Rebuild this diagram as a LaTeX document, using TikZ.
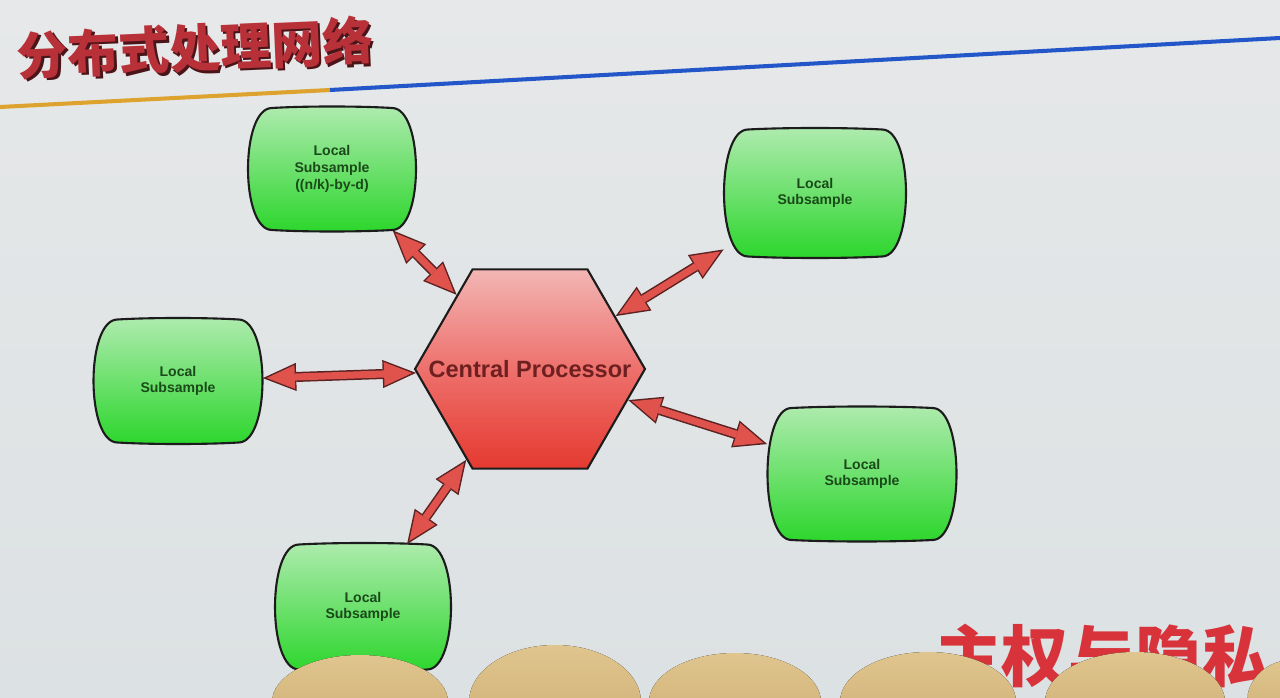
\documentclass[tikz,border=0pt]{standalone}
\usepackage{fontspec}
\usetikzlibrary{shapes.geometric,arrows.meta,calc}
\newfontfamily\lsans{Liberation Sans}
\newfontfamily\cjk{Noto Sans CJK SC}
\definecolor{bgtop}{HTML}{E6E8E9}
\definecolor{bgbot}{HTML}{DCE1E3}
\definecolor{titlered}{HTML}{B83038}
\definecolor{titleshadow}{HTML}{4A1418}
\definecolor{goldline}{HTML}{DDA32E}
\definecolor{blueline}{HTML}{2356C8}
\definecolor{greentop}{HTML}{AEEBAE}
\definecolor{greenbot}{HTML}{2CD62C}
\definecolor{greentext}{HTML}{1A4A1A}
\definecolor{hextop}{HTML}{F2B6B4}
\definecolor{hexmid}{HTML}{EE706C}
\definecolor{hexbot}{HTML}{E43A30}
\definecolor{hextext}{HTML}{6E2020}
\definecolor{arrowred}{HTML}{E0524C}
\definecolor{arrowline}{HTML}{5A2222}
\definecolor{outline}{HTML}{1C1C1C}
\definecolor{tantop}{HTML}{DFC58E}
\definecolor{tanbot}{HTML}{CBAA6E}
\definecolor{bigred}{HTML}{D8323A}
\tikzset{
  barrelfill/.style={draw=outline, line width=1.2pt, top color=greentop, bottom color=greenbot},
  barreltext/.style={inner sep=0pt, align=center, text=greentext, font=\lsans\bfseries\fontsize{8}{9.5}\selectfont},
  hexstyle/.style={regular polygon, regular polygon sides=6, minimum size=4.6cm, inner sep=0pt,
    draw=outline, line width=1.2pt, top color=hextop, bottom color=hexbot, middle color=hexmid},
  biarrow/.style={draw=arrowline, line width=5.7pt,
    {Triangle[length=19pt,width=16pt,line width=0pt]}-{Triangle[length=19pt,width=16pt,line width=0pt]},
    postaction={draw=arrowred, line width=4pt, shorten <=2.2pt, shorten >=2.2pt,
    {Triangle[length=16pt,width=13.6pt,line width=0pt]}-{Triangle[length=16pt,width=13.6pt,line width=0pt]}}},
  tan/.style={top color=tantop, bottom color=tanbot, draw=none},
}
\newcommand\barrel[6]{%
  \pgfmathsetmacro\bw{#4/2}\pgfmathsetmacro\bh{#5/2}\pgfmathsetmacro\bc{24}%
  \path[barrelfill] (#2-\bw+\bc,#3+\bh)
    .. controls (#2-\bw/3,#3+\bh+2) and (#2+\bw/3,#3+\bh+2) .. (#2+\bw-\bc,#3+\bh)
    .. controls (#2+\bw+\bc/3,#3+\bh) and (#2+\bw+\bc/3,#3-\bh) .. (#2+\bw-\bc,#3-\bh)
    .. controls (#2+\bw/3,#3-\bh-2) and (#2-\bw/3,#3-\bh-2) .. (#2-\bw+\bc,#3-\bh)
    .. controls (#2-\bw-\bc/3,#3-\bh) and (#2-\bw-\bc/3,#3+\bh) .. cycle;
  \node[barreltext, minimum width=#4*0.02cm, minimum height=#5*0.02cm] (#1) at (#2,#3) {#6};
}
\begin{document}
\begin{tikzpicture}[x=0.02cm,y=0.02cm]
\useasboundingbox (0,0) rectangle (1280,697);
\fill[top color=bgtop, bottom color=bgbot] (0,0) rectangle (1280,697);
% title
\node[font=\cjk\bfseries\fontsize{29}{29}\selectfont, text=titleshadow, rotate=2.5, inner sep=0pt] (titleshadow) at (197.5,646.5) {分布式处理网络};
\node[font=\cjk\bfseries\fontsize{29}{29}\selectfont, text=titlered, rotate=2.5, inner sep=0pt] (title) at (195,649) {分布式处理网络};
\coordinate (l0) at (0,590);
\coordinate (l1) at (330,607);
\coordinate (l2) at (1280,659);
\draw[goldline, line width=2.3pt] (l0) -- (l1);
\draw[blueline, line width=2.3pt] (l1) -- (l2);
% nodes
\barrel{tl}{332}{528}{168}{122}{Local\\Subsample\\((n/k)-by-d)}
\barrel{tr}{815}{504}{182}{127}{Local\\Subsample}
\barrel{lf}{178}{316}{169}{123}{Local\\Subsample}
\barrel{rt}{862}{223}{189}{132}{Local\\Subsample}
\barrel{bt}{363}{90}{176}{125}{Local\\Subsample}
\node[hexstyle, label={[text=hextext, font=\lsans\bfseries\fontsize{13.4}{13.4}\selectfont]center:Central Processor}] (hex) at (530,328) {};
% arrows
\draw[biarrow] (tl) -- (hex);
\draw[biarrow] (hex) -- (tr);
\draw[biarrow] (lf) -- (hex);
\draw[biarrow] (hex) -- (rt);
\draw[biarrow] (hex) -- (bt);
% bottom text and foreground
\node[font=\cjk\bfseries\fontsize{38}{38}\selectfont, text=bigred, inner sep=0pt] (big) at (1102,41) {主权与隐私};
\fill[tan] (360,-5) ellipse [x radius=88, y radius=47];
\fill[tan] (555,-5) ellipse [x radius=86, y radius=57];
\fill[tan] (735,-5) ellipse [x radius=86, y radius=49];
\fill[tan] (928,-5) ellipse [x radius=88, y radius=50];
\fill[tan] (1135,-5) ellipse [x radius=90, y radius=50];
\fill[tan] (1292,-5) ellipse [x radius=45, y radius=42];
\end{tikzpicture}
\end{document}
